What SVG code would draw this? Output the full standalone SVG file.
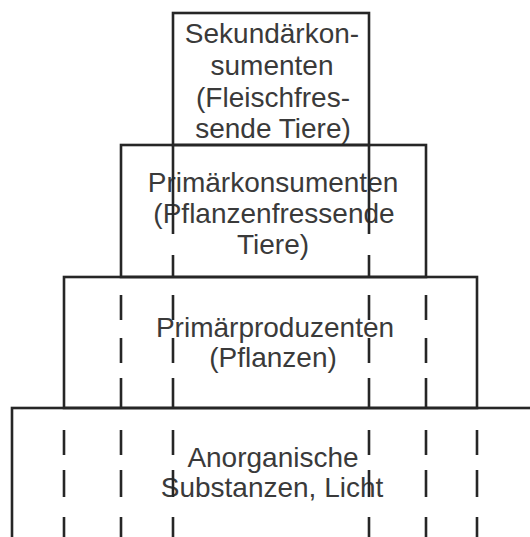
<svg xmlns="http://www.w3.org/2000/svg" xmlns:xlink="http://www.w3.org/1999/xlink" width="530" height="537" viewBox="0 0 530 537">
  <style>
    .box { fill: none; stroke: #262626; stroke-width: 2.6; }
    .lbl { font-family: "Liberation Sans", Arial, Helvetica, sans-serif; font-size: 28px; fill: #3a3a3a; text-anchor: middle; }
    .guide { fill: none; stroke: #262626; stroke-width: 2.6; }
  </style>
  <defs>
    <path id="d2" d="M0 145V234M0 255V277"/>
    <path id="d3" d="M0 295V320M0 338V363M0 378V408"/>
    <path id="d4" d="M0 430V455M0 470V497M0 517V537"/>
  </defs>
  <rect width="530" height="537" fill="#ffffff"/>

  <g id="sekundaerkonsumenten">
    <rect class="box" x="173" y="13" width="196" height="132"/>
    <text class="lbl" x="272" y="43">Sekundärkon-</text>
    <text class="lbl" x="272" y="75">sumenten</text>
    <text class="lbl" x="273" y="107">(Fleischfres-</text>
    <text class="lbl" x="273" y="138">sende Tiere)</text>
  </g>

  <g id="primaerkonsumenten">
    <rect class="box" x="121" y="145" width="305" height="132"/>
    <text class="lbl" x="273" y="192">Primärkonsumenten</text>
    <text class="lbl" x="274" y="223">(Pflanzenfressende</text>
    <text class="lbl" x="273" y="254">Tiere)</text>
  </g>

  <g id="primaerproduzenten">
    <rect class="box" x="64" y="277" width="413" height="131"/>
    <text class="lbl" x="275" y="337">Primärproduzenten</text>
    <text class="lbl" x="273" y="367">(Pflanzen)</text>
  </g>

  <g id="anorganische-substanzen">
    <rect class="box" x="12" y="408" width="530" height="140"/>
    <text class="lbl" x="273" y="467">Anorganische</text>
    <text class="lbl" x="272" y="497">Substanzen, Licht</text>
  </g>

  <g id="connectors" class="guide">
    <use xlink:href="#d2" x="173"/>
    <use xlink:href="#d2" x="369"/>
    <use xlink:href="#d3" x="173"/>
    <use xlink:href="#d3" x="369"/>
    <use xlink:href="#d3" x="121"/>
    <use xlink:href="#d3" x="426"/>
    <use xlink:href="#d4" x="173"/>
    <use xlink:href="#d4" x="369"/>
    <use xlink:href="#d4" x="121"/>
    <use xlink:href="#d4" x="426"/>
    <use xlink:href="#d4" x="64"/>
    <use xlink:href="#d4" x="477"/>
  </g>
</svg>
